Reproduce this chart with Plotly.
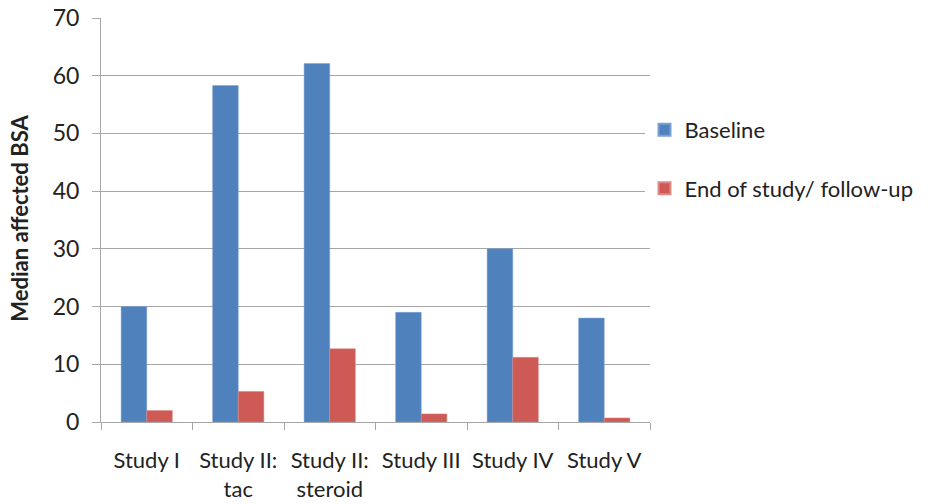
import plotly.graph_objects as go

studies = ["Study I", "Study II:<br>tac", "Study II:<br>steroid", "Study III", "Study IV", "Study V"]
baseline = [20, 58.3, 62.1, 19, 30, 18]
end_of_study = [2, 5.3, 12.7, 1.4, 11.2, 0.7]
y_title = "Median affected BSA"

font_family = "Lato, 'Open Sans', sans-serif"
grid_color = "#a6a6a6"
text_color = "#222222"

fig = go.Figure()
fig.add_trace(go.Bar(
    x=studies, y=baseline, name="Baseline",
    marker=dict(color="#4F81BD", line=dict(color="#7aa0d4", width=0.5)),
    legendgroup="a",
))
fig.add_trace(go.Bar(
    x=studies, y=end_of_study, name="End of study/ follow-up",
    marker=dict(color="#CD5A55", line=dict(color="#e08a86", width=0.5)),
    legendgroup="b",
))

# rotated y-axis title placed beside the tick labels
fig.add_annotation(
    text=f"<b>{y_title}</b>", textangle=-90,
    xref="paper", yref="paper", x=-0.148, y=0.505,
    xanchor="center", yanchor="middle", showarrow=False,
    font=dict(size=22, color=text_color),
)

fig.update_layout(
    width=932, height=504,
    margin=dict(l=101, r=282, t=18, b=82),
    paper_bgcolor="white", plot_bgcolor="white",
    barmode="group", bargap=0.44, bargroupgap=0,
    font=dict(family=font_family, size=23, color=text_color),
    showlegend=True,
    legend=dict(
        x=0.99, y=0.775, xanchor="left", yanchor="top",
        traceorder="grouped", tracegroupgap=27,
        font=dict(size=22, color=text_color),
        itemsizing="constant",
    ),
    xaxis=dict(
        automargin=False,
        showgrid=False, showline=True, linecolor=grid_color, linewidth=1,
        ticks="outside", tickson="boundaries", ticklen=7, tickcolor=grid_color,
        tickangle=0, ticklabelstandoff=19, tickfont=dict(size=22),
    ),
    yaxis=dict(
        automargin=False,
        range=[0, 70], dtick=10, showgrid=True, gridcolor=grid_color, gridwidth=1,
        showline=True, linecolor=grid_color, linewidth=1,
        ticks="outside", ticklen=8, tickcolor=grid_color, zeroline=False,
        ticklabelstandoff=8, tickfont=dict(size=23),
    ),
)

fig.write_html("out.html")
